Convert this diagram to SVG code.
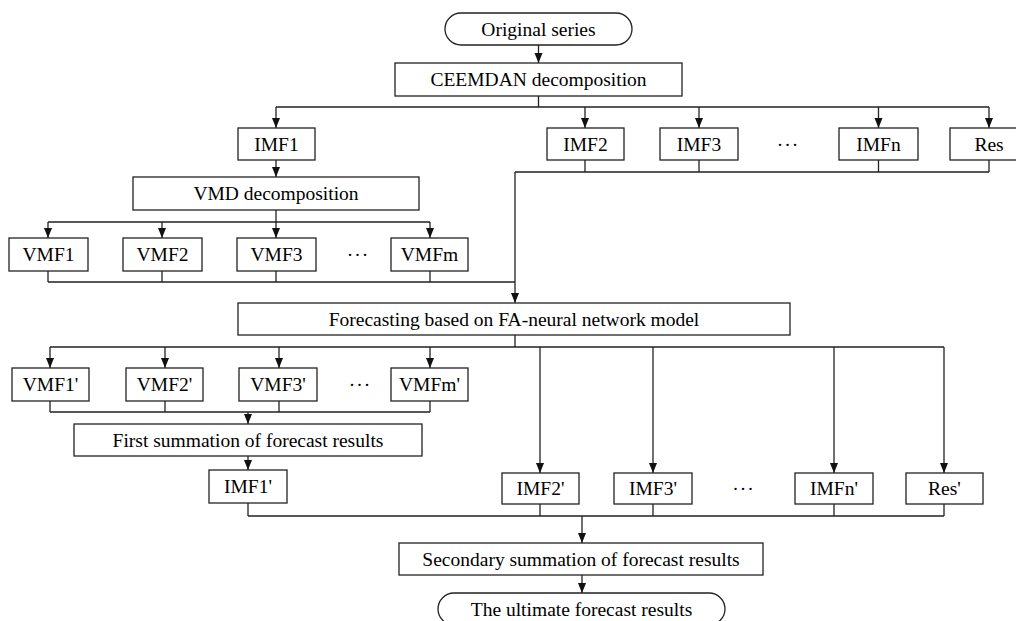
<svg xmlns="http://www.w3.org/2000/svg" width="1016" height="621" viewBox="0 0 1016 621">
<style>
.box{fill:#fff;stroke:#222;stroke-width:1.3}
.t{font-family:"Liberation Serif","Times New Roman",serif;font-size:19.5px;fill:#000;text-anchor:middle}
.d{letter-spacing:1px}
.c{fill:none;stroke:#222;stroke-width:1.3}
.a{fill:none;stroke:#222;stroke-width:1.3;marker-end:url(#arr)}
</style>
<defs>
<marker id="arr" markerUnits="userSpaceOnUse" markerWidth="10" markerHeight="10" viewBox="0 0 10 10" refX="10" refY="5" orient="auto">
<path d="M0,1 L10,5 L0,9 Z" fill="#111"/>
</marker>
</defs>
<rect width="1016" height="621" fill="#fff"/>
<g id="connectors">
<path class="a" d="M538.5,45 V63"/>
<path class="c" d="M538.5,96 V107 M276,107 H989"/>
<path class="a" d="M276,107 V128"/>
<path class="a" d="M585,107 V128"/>
<path class="a" d="M699,107 V128"/>
<path class="a" d="M878.5,107 V128"/>
<path class="a" d="M989,107 V128"/>
<path class="a" d="M276,160 V177"/>
<path class="c" d="M276,210 V222 M48,222 H430"/>
<path class="a" d="M48,222 V238"/>
<path class="a" d="M162,222 V238"/>
<path class="a" d="M276,222 V238"/>
<path class="a" d="M430,222 V238"/>
<path class="c" d="M48,271 V282 M162,271 V282 M276,271 V282 M430,271 V282 M48,282 H515"/>
<path class="c" d="M585,160 V172 M699,160 V172 M878.5,160 V172 M989,160 V172 M515,172 H989"/>
<path class="a" d="M515,172 V303"/>
<path class="c" d="M515,335 V347 M50,347 H944"/>
<path class="a" d="M50,347 V368"/>
<path class="a" d="M165,347 V368"/>
<path class="a" d="M279,347 V368"/>
<path class="a" d="M430,347 V368"/>
<path class="a" d="M540,347 V473"/>
<path class="a" d="M653,347 V473"/>
<path class="a" d="M834,347 V473"/>
<path class="a" d="M944,347 V473"/>
<path class="c" d="M50,401 V412 M165,401 V412 M279,401 V412 M430,401 V412 M50,412 H430"/>
<path class="a" d="M248,412 V424"/>
<path class="a" d="M248,456 V470"/>
<path class="c" d="M248,503 V516 M540,504 V516 M653,504 V516 M834,504 V516 M944,504 V516 M248,516 H944"/>
<path class="a" d="M582,516 V543"/>
<path class="a" d="M582,575 V593"/>
</g>
<g id="original"><rect class="box" x="445" y="13" width="187" height="32" rx="16"/><text class="t" x="538.5" y="35.5">Original series</text></g>
<g id="ceemdan"><rect class="box" x="395" y="63" width="287" height="33"/><text class="t" x="538.5" y="86">CEEMDAN decomposition</text></g>
<g id="imf1"><rect class="box" x="238" y="128" width="77" height="32"/><text class="t" x="276.5" y="150.5">IMF1</text></g>
<g id="imf2"><rect class="box" x="547" y="128" width="77" height="32"/><text class="t" x="585.5" y="150.5">IMF2</text></g>
<g id="imf3"><rect class="box" x="660" y="128" width="78" height="32"/><text class="t" x="699" y="150.5">IMF3</text></g>
<g id="dots1"><text class="t d" x="788" y="150.5">···</text></g>
<g id="imfn"><rect class="box" x="839" y="128" width="79" height="32"/><text class="t" x="878.5" y="150.5">IMFn</text></g>
<g id="res"><rect class="box" x="950" y="128" width="78" height="32"/><text class="t" x="989" y="150.5">Res</text></g>
<g id="vmd"><rect class="box" x="133" y="177" width="286" height="33"/><text class="t" x="276" y="200">VMD decomposition</text></g>
<g id="vmf1"><rect class="box" x="9" y="238" width="79" height="33"/><text class="t" x="48.5" y="261">VMF1</text></g>
<g id="vmf2"><rect class="box" x="123" y="238" width="79" height="33"/><text class="t" x="162.5" y="261">VMF2</text></g>
<g id="vmf3"><rect class="box" x="237" y="238" width="79" height="33"/><text class="t" x="276.5" y="261">VMF3</text></g>
<g id="dots2"><text class="t d" x="358" y="261">···</text></g>
<g id="vmfm"><rect class="box" x="391" y="238" width="77" height="33"/><text class="t" x="429.5" y="261">VMFm</text></g>
<g id="forecast"><rect class="box" x="238" y="303" width="552" height="32"/><text class="t" x="514" y="325.5">Forecasting based on FA-neural network model</text></g>
<g id="vmf1p"><rect class="box" x="12" y="368" width="77" height="33"/><text class="t" x="50.5" y="391">VMF1'</text></g>
<g id="vmf2p"><rect class="box" x="126" y="368" width="77" height="33"/><text class="t" x="164.5" y="391">VMF2'</text></g>
<g id="vmf3p"><rect class="box" x="239" y="368" width="78" height="33"/><text class="t" x="278" y="391">VMF3'</text></g>
<g id="dots3"><text class="t d" x="360" y="391">···</text></g>
<g id="vmfmp"><rect class="box" x="391" y="368" width="77" height="33"/><text class="t" x="429.5" y="391">VMFm'</text></g>
<g id="first"><rect class="box" x="74" y="424" width="348" height="32"/><text class="t" x="248" y="446.5">First summation of forecast results</text></g>
<g id="imf1p"><rect class="box" x="209" y="470" width="78" height="33"/><text class="t" x="248" y="493">IMF1'</text></g>
<g id="imf2p"><rect class="box" x="502" y="473" width="77" height="31"/><text class="t" x="540.5" y="495">IMF2'</text></g>
<g id="imf3p"><rect class="box" x="614" y="473" width="78" height="31"/><text class="t" x="653" y="495">IMF3'</text></g>
<g id="dots4"><text class="t d" x="743.5" y="495">···</text></g>
<g id="imfnp"><rect class="box" x="795" y="473" width="78" height="31"/><text class="t" x="834" y="495">IMFn'</text></g>
<g id="resp"><rect class="box" x="906" y="473" width="77" height="31"/><text class="t" x="944.5" y="495">Res'</text></g>
<g id="secondary"><rect class="box" x="399" y="543" width="364" height="32"/><text class="t" x="581" y="565.5">Secondary summation of forecast results</text></g>
<g id="ultimate"><rect class="box" x="438" y="593" width="287" height="32" rx="16"/><text class="t" x="581.5" y="615.5">The ultimate forecast results</text></g>
</svg>
